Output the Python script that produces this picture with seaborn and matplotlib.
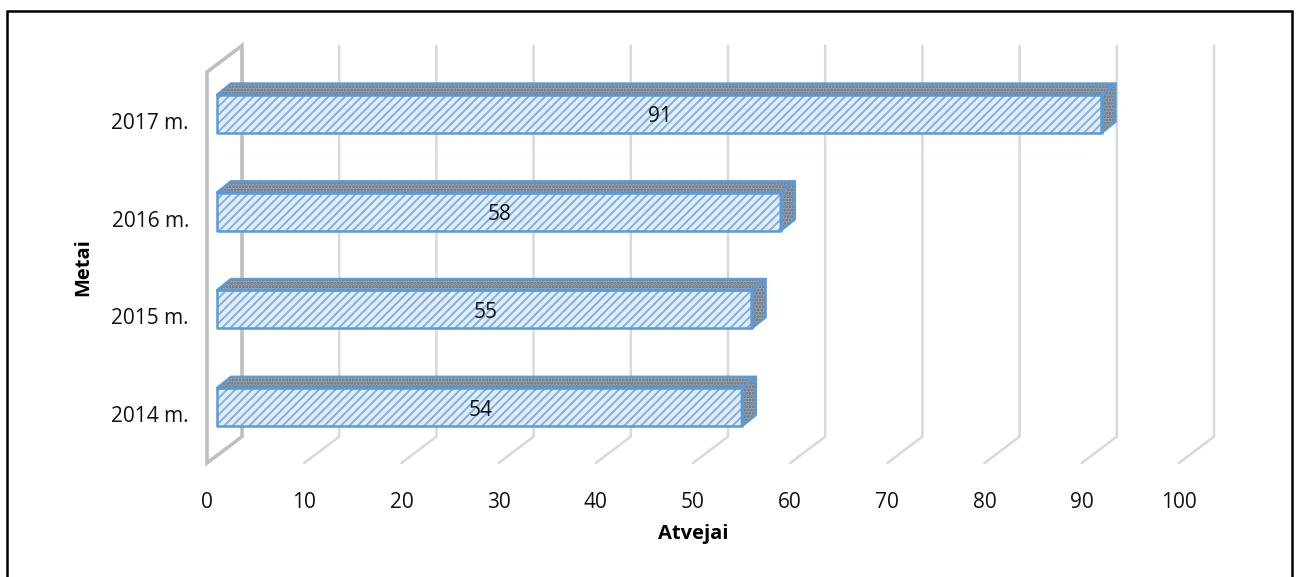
import matplotlib
matplotlib.use('Agg')
import matplotlib.pyplot as plt
from matplotlib.patches import Polygon, Rectangle
from matplotlib.transforms import Affine2D
import pandas as pd
import seaborn as sns

years = ['2017 m.', '2016 m.', '2015 m.', '2014 m.']
cases = [91, 58, 55, 54]
x_ticks = [0, 10, 20, 30, 40, 50, 60, 70, 80, 90, 100]

sns.set_style('white')
plt.rcParams['font.family'] = ['Open Sans', 'DejaVu Sans']
plt.rcParams['hatch.linewidth'] = 1.4

W, H = 1299, 577
BLUE = '#5b9bd5'
fig = plt.figure(figsize=(W / 100, H / 100), dpi=100)
# axes is the front plane of the fake 3d box
ax = fig.add_axes([207 / W, 1 - 463 / H, (1179 - 207) / W, (463 - 72) / H])

df = pd.DataFrame({'year': years, 'cases': cases})
sns.barplot(data=df, x='cases', y='year', order=years, orient='h', width=0.39,
            color='#e3eefa', saturation=1, ax=ax, zorder=3)

ax.set_xlim(0, 100)
ax.set_ylim(3.5, -0.5)
ax.set_xticks(x_ticks)
ax.tick_params(axis='both', length=0, labelsize=15, colors='#111111')
ax.tick_params(axis='x', pad=21)
ax.tick_params(axis='y', pad=13)
ax.set_xlabel('Atvejai', fontsize=14.5, fontweight='bold', color='black', labelpad=8)
ax.set_ylabel('Metai', fontsize=14.5, fontweight='bold', color='black', labelpad=13)
sns.despine(ax=ax, left=True, bottom=True)

# depth of the box floor and of the bars, data units
box_dx, box_dy = 3.6, 0.27
bar_dx, bar_dy = 1.44, 0.115
half = 0.195

for t in x_ticks[1:]:
    ax.plot([t, t + box_dx, t + box_dx], [3.5, 3.5 - box_dy, -0.5 - box_dy],
            color='#d9d9d9', lw=1.8, clip_on=False, zorder=1)
ax.add_patch(Polygon([(0, 3.5), (0, -0.5), (box_dx, -0.5 - box_dy), (box_dx, 3.5 - box_dy)],
                     closed=True, fc='none', ec='#bfbfbf', lw=2.6, clip_on=False, zorder=2,
                     joinstyle='miter'))

# bars stand a bit in front of the wall
shift = ax.transData + Affine2D().translate(10, 7)
for bar in ax.patches:
    if isinstance(bar, Rectangle):
        bar.set_transform(shift)
        bar.set_hatch('////')
        bar.set_edgecolor('#7fb2e2')
        bar.set_linewidth(0)
        bar.set_clip_on(False)

for i, v in enumerate(cases):
    front = [(0, i - half), (v, i - half), (v, i + half), (0, i + half)]
    top = [(0, i - half), (bar_dx, i - half - bar_dy), (v + bar_dx, i - half - bar_dy), (v, i - half)]
    side = [(v, i - half), (v + bar_dx, i - half - bar_dy), (v + bar_dx, i + half - bar_dy), (v, i + half)]
    for pts in (top, side):
        ax.add_patch(Polygon(pts, closed=True, fc='#98a3af', ec='#66727f', hatch='.....', lw=0,
                             transform=shift, clip_on=False, zorder=3))
    for pts in (top, side, front):
        ax.add_patch(Polygon(pts, closed=True, fc='none', ec=BLUE, lw=1.8,
                             transform=shift, clip_on=False, zorder=4, joinstyle='round'))
    ax.text(v / 2, i, str(v), ha='center', va='center', fontsize=15, color='#111111',
            transform=shift + Affine2D().translate(1, -3), zorder=5)

# chart frame, the bottom edge runs off the picture
fig.add_artist(Rectangle((7 / W, -10 / H), 1285 / W, (H - 11 + 10) / H, transform=fig.transFigure,
                         fc='none', ec='black', lw=1.8))

fig.savefig('out.png', dpi=100)
